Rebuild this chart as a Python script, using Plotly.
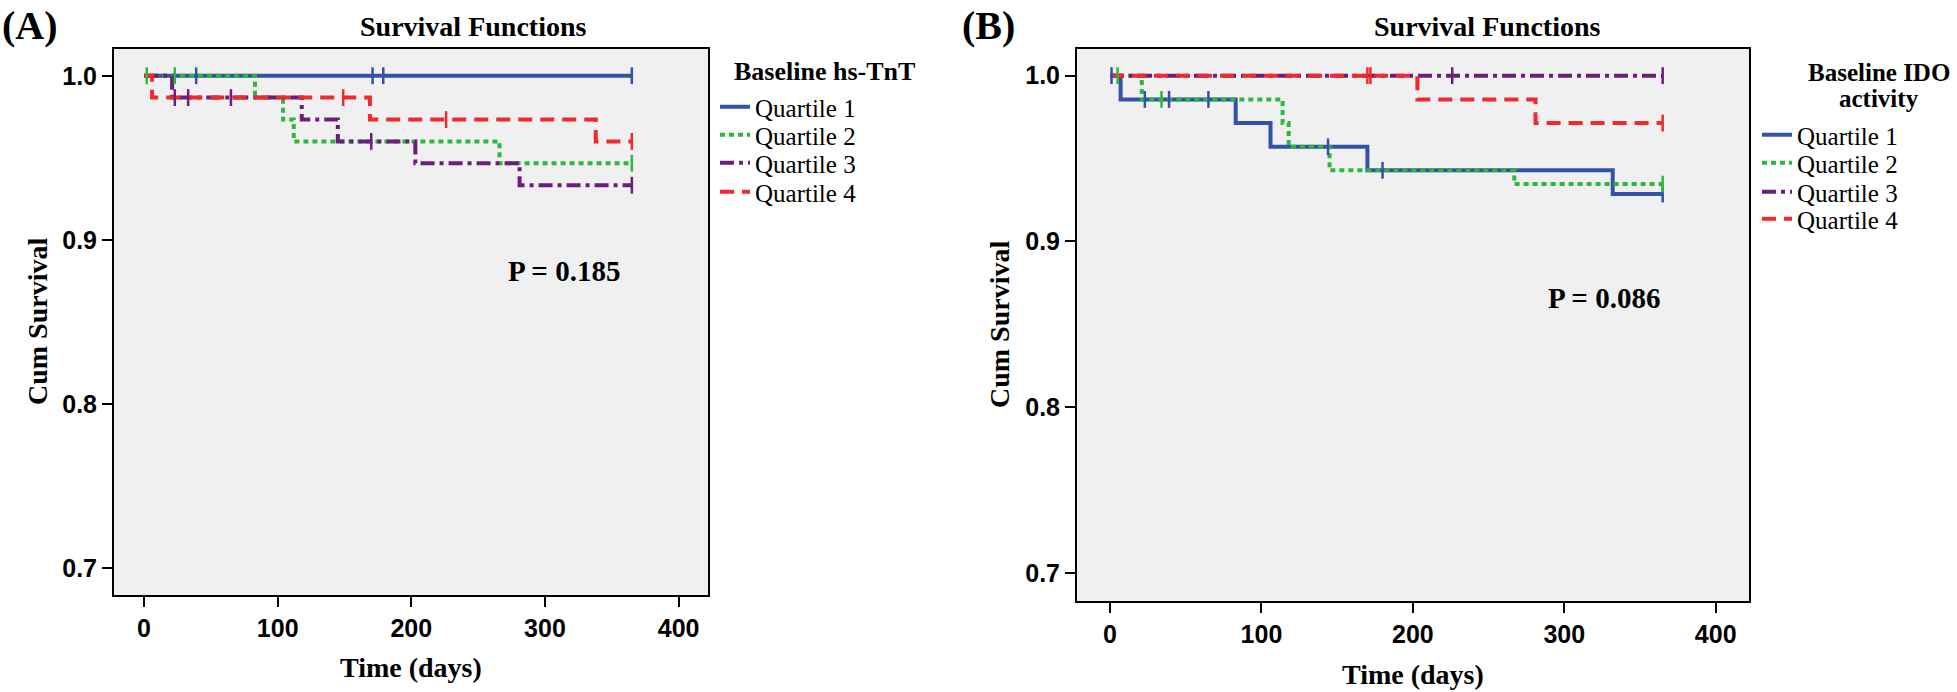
import plotly.graph_objects as go

W, H = 1957, 692

quartiles = ["Quartile 1", "Quartile 2", "Quartile 3", "Quartile 4"]
colors = ["#3352A8", "#2DB83D", "#6B1F7B", "#EE2A2E"]
dashes = ["solid", "5px,4px", "14px,5px,4px,5px", "14px,8px"]

x_ticks = [0, 100, 200, 300, 400]
y_ticks = [0.7, 0.8, 0.9, 1.0]
y_ticktext = ["0.7", "0.8", "0.9", "1.0"]

# Panel A: Baseline hs-TnT (step times and survival after each step)
a_times = [
    [0, 365],
    [0, 83, 104, 112, 266, 365],
    [0, 21, 118, 145, 203, 281, 365],
    [0, 6, 169, 338, 365],
]
a_surv = [
    [1.0, 1.0],
    [1.0, 0.9867, 0.9733, 0.9600, 0.9467, 0.9467],
    [1.0, 0.9867, 0.9733, 0.9600, 0.9467, 0.9333, 0.9333],
    [1.0, 0.9867, 0.9733, 0.9600, 0.9600],
]
a_censor = [
    [39, 171, 179, 365],
    [2, 23, 365],
    [23, 33, 65, 170, 365],
    [149, 226, 365],
]
a_p_text = "P = 0.185"
a_p_pos = (314, 0.881)

# Panel B: Baseline IDO activity
b_times = [
    [0, 7, 83, 106, 170, 332, 365],
    [0, 21, 114, 118, 145, 267, 365],
    [0, 365],
    [0, 203, 281, 365],
]
b_surv = [
    [1.0, 0.9857, 0.9714, 0.9571, 0.9429, 0.9286, 0.9286],
    [1.0, 0.9857, 0.9714, 0.9571, 0.9429, 0.9346, 0.9346],
    [1.0, 1.0],
    [1.0, 0.9857, 0.9714, 0.9714],
]
b_censor = [
    [1, 23, 39, 65, 144, 180, 365],
    [5, 34, 365],
    [226, 365],
    [170, 172, 365],
]
b_p_text = "P = 0.086"
b_p_pos = (326, 0.866)


def step_value(times, surv, t):
    v = surv[0]
    for ti, si in zip(times, surv):
        if ti <= t:
            v = si
    return v


fig = go.Figure()

legend_names_a = ["legend", "legend2", "legend3", "legend4"]
legend_names_b = ["legend5", "legend6", "legend7", "legend8"]


def add_panel(times_l, surv_l, cens_l, xa, ya, legend_names):
    for i in range(4):
        fig.add_trace(go.Scatter(
            x=times_l[i], y=surv_l[i], mode="lines", line_shape="hv",
            line=dict(color=colors[i], width=4, dash=dashes[i]),
            name=quartiles[i], xaxis=xa, yaxis=ya, legend=legend_names[i],
        ))
    for i in range(4):
        cy = [step_value(times_l[i], surv_l[i], t) for t in cens_l[i]]
        fig.add_trace(go.Scatter(
            x=cens_l[i], y=cy, mode="markers",
            marker=dict(symbol="line-ns-open", size=12, color=colors[i],
                        line=dict(color=colors[i], width=2.5)),
            showlegend=False, xaxis=xa, yaxis=ya,
        ))


add_panel(a_times, a_surv, a_censor, "x", "y", legend_names_a)
add_panel(b_times, b_surv, b_censor, "x2", "y2", legend_names_b)

tickfont = dict(family="Liberation Sans", size=25, color="black", weight="bold")
axis_common = dict(showline=True, mirror=True, linecolor="black", linewidth=2,
                   ticks="outside", ticklen=10, tickwidth=1.5, tickcolor="black",
                   showgrid=False, zeroline=False, tickfont=tickfont)

legend_font = dict(family="Liberation Serif", size=25, color="black")


def legend_box(x_px, y_px):
    return dict(x=x_px / W, xanchor="left", y=1 - y_px / H, yanchor="middle",
                bgcolor="rgba(0,0,0,0)", borderwidth=0, font=legend_font)


legend_rows_a = [107, 135, 163, 192]
legend_rows_b = [135, 163, 192, 219]

layout_legends = {}
for name, yy in zip(legend_names_a, legend_rows_a):
    layout_legends[name] = legend_box(715, yy)
for name, yy in zip(legend_names_b, legend_rows_b):
    layout_legends[name] = legend_box(1757, yy)

fig.update_layout(
    width=W, height=H, autosize=False,
    margin=dict(l=0, r=0, t=0, b=0),
    paper_bgcolor="white", plot_bgcolor="#F0F0F0",
    xaxis=dict(domain=[114 / W, 708 / W], range=[-22.5, 422], tickvals=x_ticks,
               anchor="y", **axis_common),
    yaxis=dict(domain=[1 - 595 / H, 1 - 49 / H], range=[0.6837, 1.0163],
               tickvals=y_ticks, ticktext=y_ticktext, anchor="x", **axis_common),
    xaxis2=dict(domain=[1077 / W, 1749 / W], range=[-21.8, 422], tickvals=x_ticks,
                anchor="y2", **axis_common),
    yaxis2=dict(domain=[1 - 601 / H, 1 - 49 / H], range=[0.6831, 1.0161],
                tickvals=y_ticks, ticktext=y_ticktext, anchor="x2", **axis_common),
    showlegend=True,
    **layout_legends,
)

serif_b = lambda s: dict(family="Liberation Serif", size=s, color="black", weight="bold")


def ann(text, x, y, size, xanchor="center", angle=0):
    fig.add_annotation(text=text, x=x / W, y=1 - y / H, xref="paper", yref="paper",
                       xanchor=xanchor, yanchor="middle", showarrow=False,
                       font=serif_b(size), textangle=angle)


ann("(A)", 0, 25, 40, xanchor="left")
ann("(B)", 960, 25, 40, xanchor="left")
ann("Survival Functions", 473, 27, 28)
ann("Survival Functions", 1487, 27, 28)
ann("Cum Survival", 37, 322, 28, angle=-90)
ann("Cum Survival", 999, 325, 28, angle=-90)
ann("Time (days)", 411, 667, 28)
ann("Time (days)", 1413, 674, 28)
ann("Baseline hs-TnT", 824, 71, 26)
ann("Baseline IDO", 1879, 72, 25)
ann("activity", 1879, 98, 25)

fig.add_annotation(text=a_p_text, x=a_p_pos[0], y=a_p_pos[1], xref="x", yref="y",
                   showarrow=False, font=serif_b(29))
fig.add_annotation(text=b_p_text, x=b_p_pos[0], y=b_p_pos[1], xref="x2", yref="y2",
                   showarrow=False, font=serif_b(29))

fig.write_html("out.html",
               config={"displayModeBar": False},
               post_script="document.body.style.margin='0';document.body.style.overflow='hidden';")
